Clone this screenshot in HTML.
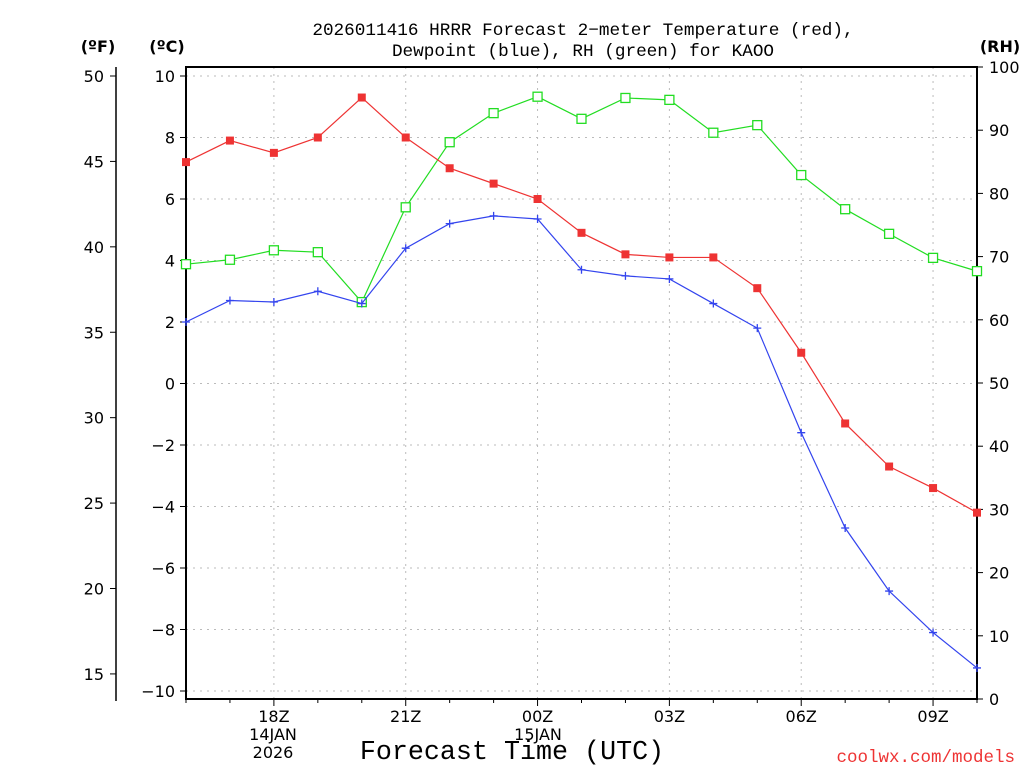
<!DOCTYPE html>
<html><head><meta charset="utf-8"><style>
body{margin:0;background:#fff;width:1024px;height:768px;overflow:hidden}
text{font-family:"DejaVu Sans","Liberation Sans",sans-serif}
.mono{font-family:"Liberation Mono","DejaVu Sans Mono",monospace}
</style></head><body>
<svg id="chart" width="1024" height="768" xmlns="http://www.w3.org/2000/svg"></svg>
<script>
const hours=[16,17,18,19,20,21,22,23,24,25,26,27,28,29,30,31,32,33,34];
const tempC=[7.2,7.9,7.5,8.0,9.3,8.0,7.0,6.5,6.0,4.9,4.2,4.1,4.1,3.1,1.0,-1.3,-2.7,-3.4,-4.2];
const dewC=[2.0,2.7,2.65,3.0,2.6,4.4,5.2,5.45,5.35,3.7,3.5,3.4,2.6,1.8,-1.6,-4.7,-6.75,-8.1,-9.25];
const rh=[68.8,69.5,71,70.7,62.8,77.8,88.1,92.7,95.3,91.8,95.1,94.8,89.6,90.8,82.9,77.5,73.6,69.8,67.7];
const cTicks=[-10,-8,-6,-4,-2,0,2,4,6,8,10];
const fTicks=[15,20,25,30,35,40,45,50];
const rhTicks=[0,10,20,30,40,50,60,70,80,90,100];
const xTickHours=[18,21,24,27,30,33];
const xTickLabels=["18Z","21Z","00Z","03Z","06Z","09Z"];
const L=186,R=977,T=67,B=699;
const xs=h=>L+(h-16)*(R-L)/18;
const yc=c=>76+(10-c)*30.75;
const yf=f=>yc((f-32)*5/9);
const yr=r=>B-(r)*(B-T)/100;
const svg=document.getElementById('chart');
const NS="http://www.w3.org/2000/svg";
function el(tag,attrs,txt){const e=document.createElementNS(NS,tag);for(const k in attrs)e.setAttribute(k,attrs[k]);if(txt!==undefined)e.textContent=txt;svg.appendChild(e);return e;}
cTicks.forEach(c=>{const g=el('line',{x1:L,x2:R,y1:yc(c),y2:yc(c),stroke:'#bbb','stroke-dasharray':'2,5'});
});
xTickHours.forEach(h=>{const g=el('line',{x1:xs(h),x2:xs(h),y1:T,y2:B,stroke:'#bbb','stroke-dasharray':'2,5'});
});
let bx=el('rect',{x:L,y:T,width:R-L,height:B-T,fill:'none',stroke:'#000','stroke-width':2});

cTicks.forEach(c=>{el('line',{x1:L-6,x2:L,y1:yc(c),y2:yc(c),stroke:'#000'});
const t=el('text',{x:175,y:yc(c)+6,'text-anchor':'end','font-size':16},(c<0?'\u2212'+(-c):c));
});
el('line',{x1:116,x2:116,y1:T,y2:B+2,stroke:'#000','stroke-width':1.5});
fTicks.forEach(f=>{el('line',{x1:110,x2:116,y1:yf(f),y2:yf(f),stroke:'#000'});
const t=el('text',{x:104,y:yf(f)+6,'text-anchor':'end','font-size':16},f);
});
rhTicks.forEach(r=>{el('line',{x1:R,x2:R+6,y1:yr(r),y2:yr(r),stroke:'#000'});
const t=el('text',{x:989,y:yr(r)+6,'font-size':16},r);
});
for(let h=16;h<=34;h++){el('line',{x1:xs(h),x2:xs(h),y1:B,y2:B+(xTickHours.includes(h)?7:4),stroke:'#000'});}
xTickHours.forEach((h,i)=>{const t=el('text',{x:xs(h),y:722,'text-anchor':'middle','font-size':16},xTickLabels[i]);
});
[[273,'14JAN',740],[273,'2026',758],[538,'15JAN',740]].forEach(a=>{const t=el('text',{x:a[0],y:a[2],'text-anchor':'middle','font-size':16},a[1]);
});
function series(vals,yfn,color,name,marker){
const pts=vals.map((v,i)=>xs(hours[i])+','+yfn(v)).join(' ');
const p=el('polyline',{points:pts,fill:'none',stroke:color,'stroke-width':1.2});

vals.forEach((v,i)=>{const x=xs(hours[i]),y=yfn(v);let m;
if(marker==='fill'){m=el('rect',{x:x-4,y:y-4,width:8,height:8,fill:color});}
else if(marker==='open'){m=el('rect',{x:x-4.5,y:y-4.5,width:9,height:9,fill:'#fff',stroke:color,'stroke-width':1.3});}
else{m=el('path',{d:`M${x-4},${y}H${x+4}M${x},${y-4}V${y+4}`,stroke:color,'stroke-width':1.3});}
});}
series(rh,yr,'#22dd22','rh','open');
series(tempC,yc,'#ee3333','temperature','fill');
series(dewC,yc,'#3344ee','dewpoint','plus');
const tt=[[583,35,'2026011416 HRRR Forecast 2\u2212meter Temperature (red),'],[583,56,'Dewpoint (blue), RH (green) for KAOO']];
tt.forEach(a=>{const t=el('text',{x:a[0],y:a[1],'text-anchor':'middle','font-size':17.7,class:'mono'},a[2]);
});
[[98,'(ºF)'],[167,'(ºC)'],[1000,'(RH)']].forEach(a=>{const t=el('text',{x:a[0],y:52,'text-anchor':'middle','font-size':16,'font-weight':'bold'},a[1]);
});
let xt=el('text',{x:512,y:759,'text-anchor':'middle','font-size':26.7,class:'mono'},'Forecast Time (UTC)');

let cr=el('text',{x:1015,y:762,'text-anchor':'end','font-size':17.5,fill:'#ee3333',class:'mono'},'coolwx.com/models');

</script>
</body></html>
